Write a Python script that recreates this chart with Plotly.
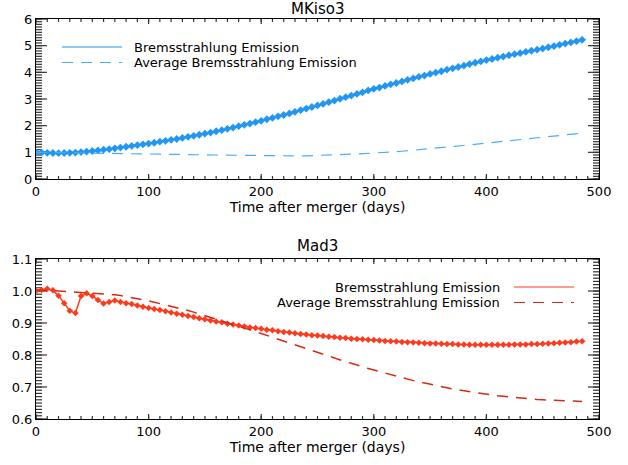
import plotly.graph_objects as go

W, H = 628, 465

days = [0, 5, 10, 15, 20, 25, 30, 35, 40, 45, 50, 55, 60, 65, 70, 75, 80, 85, 90, 95,
        100, 105, 110, 115, 120, 125, 130, 135, 140, 145, 150, 155, 160, 165, 170, 175, 180, 185, 190, 195,
        200, 205, 210, 215, 220, 225, 230, 235, 240, 245, 250, 255, 260, 265, 270, 275, 280, 285, 290, 295,
        300, 305, 310, 315, 320, 325, 330, 335, 340, 345, 350, 355, 360, 365, 370, 375, 380, 385, 390, 395,
        400, 405, 410, 415, 420, 425, 430, 435, 440, 445, 450, 455, 460, 465, 470, 475, 480, 485]

mkiso3_brems = [1.00, 0.99, 0.98, 0.975, 0.97, 0.975, 0.98, 0.99, 1.01, 1.03,
                1.05, 1.07, 1.10, 1.12, 1.15, 1.18, 1.21, 1.24, 1.27, 1.30,
                1.33, 1.36, 1.40, 1.43, 1.47, 1.50, 1.54, 1.58, 1.62, 1.66,
                1.70, 1.74, 1.79, 1.83, 1.88, 1.93, 1.98, 2.03, 2.08, 2.13,
                2.18, 2.24, 2.29, 2.35, 2.40, 2.46, 2.52, 2.58, 2.64, 2.70,
                2.76, 2.82, 2.88, 2.94, 3.01, 3.07, 3.13, 3.19, 3.25, 3.32,
                3.38, 3.43, 3.49, 3.55, 3.60, 3.66, 3.72, 3.77, 3.83, 3.88,
                3.94, 3.99, 4.04, 4.10, 4.15, 4.20, 4.25, 4.31, 4.36, 4.41,
                4.46, 4.50, 4.55, 4.59, 4.64, 4.68, 4.72, 4.77, 4.81, 4.85,
                4.89, 4.94, 4.98, 5.03, 5.08, 5.12, 5.17, 5.22]

mkiso3_avg = [1.000, 0.998, 0.995, 0.992, 0.989, 0.986, 0.983, 0.980, 0.977, 0.974,
              0.971, 0.969, 0.967, 0.965, 0.963, 0.961, 0.958, 0.956, 0.954, 0.951,
              0.948, 0.944, 0.940, 0.936, 0.932, 0.928, 0.924, 0.920, 0.916, 0.912,
              0.908, 0.904, 0.900, 0.896, 0.892, 0.888, 0.884, 0.880, 0.876, 0.872,
              0.869, 0.866, 0.864, 0.863, 0.862, 0.862, 0.864, 0.866, 0.870, 0.875,
              0.880, 0.887, 0.895, 0.903, 0.912, 0.921, 0.930, 0.940, 0.950, 0.958,
              0.967, 0.980, 0.994, 1.009, 1.024, 1.040, 1.057, 1.075, 1.093, 1.111,
              1.130, 1.150, 1.171, 1.192, 1.213, 1.235, 1.257, 1.279, 1.301, 1.323,
              1.345, 1.366, 1.387, 1.408, 1.429, 1.450, 1.472, 1.494, 1.516, 1.538,
              1.560, 1.583, 1.606, 1.629, 1.652, 1.675, 1.698, 1.720]

mad3_brems = [1.000, 1.003, 1.007, 1.002, 0.985, 0.962, 0.938, 0.931, 0.984, 0.993,
              0.984, 0.972, 0.961, 0.966, 0.970, 0.966, 0.962, 0.959, 0.955, 0.951,
              0.947, 0.944, 0.941, 0.937, 0.933, 0.929, 0.926, 0.922, 0.919, 0.915,
              0.912, 0.908, 0.905, 0.902, 0.898, 0.895, 0.892, 0.889, 0.886, 0.884,
              0.882, 0.879, 0.877, 0.874, 0.872, 0.870, 0.868, 0.866, 0.864, 0.862,
              0.861, 0.859, 0.857, 0.856, 0.854, 0.853, 0.851, 0.850, 0.849, 0.848,
              0.847, 0.845, 0.844, 0.843, 0.842, 0.841, 0.840, 0.839, 0.838, 0.837,
              0.836, 0.836, 0.835, 0.834, 0.834, 0.833, 0.833, 0.832, 0.832, 0.832,
              0.832, 0.832, 0.832, 0.832, 0.832, 0.833, 0.833, 0.833, 0.834, 0.834,
              0.835, 0.836, 0.837, 0.838, 0.839, 0.840, 0.842, 0.843]

mad3_avg = [1.003, 1.003, 1.002, 1.001, 1.000, 0.999, 0.998, 0.997, 0.996, 0.995,
            0.994, 0.993, 0.991, 0.989, 0.988, 0.986, 0.983, 0.980, 0.976, 0.972,
            0.969, 0.965, 0.961, 0.957, 0.953, 0.949, 0.944, 0.939, 0.934, 0.929,
            0.924, 0.918, 0.912, 0.906, 0.900, 0.895, 0.889, 0.884, 0.879, 0.873,
            0.867, 0.861, 0.855, 0.849, 0.843, 0.837, 0.831, 0.825, 0.819, 0.813,
            0.807, 0.801, 0.795, 0.789, 0.784, 0.779, 0.774, 0.768, 0.763, 0.758,
            0.753, 0.748, 0.743, 0.738, 0.733, 0.728, 0.724, 0.720, 0.716, 0.712,
            0.708, 0.704, 0.701, 0.697, 0.694, 0.691, 0.688, 0.685, 0.682, 0.680,
            0.677, 0.675, 0.673, 0.671, 0.669, 0.667, 0.665, 0.664, 0.662, 0.661,
            0.660, 0.659, 0.658, 0.657, 0.656, 0.656, 0.655, 0.655]

titles = ["MKiso3", "Mad3"]
xlabel = "Time after merger (days)"
legend_labels = ["Bremsstrahlung Emission", "Average Bremsstrahlung Emission"]

BLUE = "#2196f3"
BLUE_D = "#47aef5"
RED = "#ff3a1c"
RED_D = "#d42a12"
FONT = "DejaVu Sans"

def px(x):
    return x / W

def py(y):
    return 1 - y / H

XDOM = [36 / W, 599 / W]
TOP_DOM = [py(179), py(19)]
BOT_DOM = [py(419), py(259)]
PLOT_W = 563.0
PLOT_H = 160.0
XR = [0, 500]

fig = go.Figure()

# ---- tick marks on all four sides, drawn as line segments in axis units ----
def tick_trace(xa, ya, yr, ymaj, ymin):
    xs, ys = [], []
    (x0, x1), (y0, y1) = XR, yr
    ypp = (y1 - y0) / PLOT_H  # data units per pixel (y)
    xpp = (x1 - x0) / PLOT_W  # data units per pixel (x)
    for step, ln in [(100, 5), (10, 3)]:
        n = int(round((x1 - x0) / step))
        for i in range(n + 1):
            v = x0 + i * step
            xs += [v, v, None, v, v, None]
            ys += [y0, y0 + ln * ypp, None, y1, y1 - ln * ypp, None]
    for step, ln in [(ymaj, 11), (ymin, 6)]:
        n = int(round((y1 - y0) / step))
        for i in range(n + 1):
            v = y0 + i * step
            xs += [x0, x0 + ln * xpp, None, x1, x1 - ln * xpp, None]
            ys += [v, v, None, v, v, None]
    return go.Scatter(x=xs, y=ys, mode="lines", xaxis=xa, yaxis=ya, cliponaxis=False,
                      line=dict(color="#333333", width=1.2), hoverinfo="skip", showlegend=False)

fig.add_trace(tick_trace("x", "y", [0, 6], 1, 0.1))
fig.add_trace(tick_trace("x2", "y2", [0.6, 1.1], 0.1, 0.01))

fig.add_trace(go.Scatter(x=days, y=mkiso3_brems, mode="lines+markers", xaxis="x", yaxis="y",
                         line=dict(color=BLUE, width=1.5),
                         marker=dict(symbol="diamond", size=6, color=BLUE), showlegend=False))
fig.add_trace(go.Scatter(x=days, y=mkiso3_avg, mode="lines", xaxis="x", yaxis="y",
                         line=dict(color=BLUE_D, width=1.2, dash="11px,8px"), showlegend=False))
fig.add_trace(go.Scatter(x=days, y=mad3_brems, mode="lines+markers", xaxis="x2", yaxis="y2",
                         line=dict(color=RED, width=1.5),
                         marker=dict(symbol="diamond", size=5, color=RED), showlegend=False))
fig.add_trace(go.Scatter(x=days, y=mad3_avg, mode="lines", xaxis="x2", yaxis="y2",
                         line=dict(color=RED_D, width=1.5, dash="11px,8px"), showlegend=False))

base = dict(showline=True, linecolor="black", linewidth=1, mirror=True,
            showgrid=False, zeroline=False, automargin=False,
            ticks="", tickmode="linear", fixedrange=True)

major_x = dict(base, range=XR, tick0=0, dtick=100, domain=XDOM,
               tickfont=dict(family=FONT, size=13, color="black"),
               title=dict(text=xlabel, font=dict(family=FONT, size=14, color="black"), standoff=4))
major_y = dict(base, tickfont=dict(family=FONT, size=13, color="black"))

fig.update_layout(
    width=W, height=H, margin=dict(l=0, r=0, t=0, b=0, autoexpand=False),
    paper_bgcolor="white", plot_bgcolor="white",
    xaxis=dict(major_x, anchor="y"),
    yaxis=dict(major_y, range=[0, 6], tick0=0, dtick=1, domain=TOP_DOM, anchor="x"),
    xaxis2=dict(major_x, anchor="y2"),
    yaxis2=dict(major_y, range=[0.6, 1.1], tick0=0.6, dtick=0.1, tickformat=".1f",
                domain=BOT_DOM, anchor="x2"),
)

shapes = [
    dict(type="line", xref="paper", yref="paper", x0=px(62), x1=px(122), y0=py(47), y1=py(47),
         line=dict(color=BLUE, width=1.2)),
    dict(type="line", xref="paper", yref="paper", x0=px(62), x1=px(122), y0=py(62.5), y1=py(62.5),
         line=dict(color=BLUE_D, width=1.2, dash="11px,8px")),
    dict(type="line", xref="paper", yref="paper", x0=px(514), x1=px(574), y0=py(287), y1=py(287),
         line=dict(color=RED, width=1.2)),
    dict(type="line", xref="paper", yref="paper", x0=px(514), x1=px(574), y0=py(302.5), y1=py(302.5),
         line=dict(color=RED_D, width=1.2, dash="11px,8px")),
]
fig.update_layout(shapes=shapes)

ann_font = dict(family=FONT, size=13, color="black")
annotations = [
    dict(text=titles[0], x=px(317), y=py(9), xref="paper", yref="paper", showarrow=False,
         xanchor="center", yanchor="middle", font=dict(family=FONT, size=15, color="black")),
    dict(text=titles[1], x=px(317), y=py(246), xref="paper", yref="paper", showarrow=False,
         xanchor="center", yanchor="middle", font=dict(family=FONT, size=15, color="black")),
    dict(text=legend_labels[0], x=px(132), y=py(47), xref="paper", yref="paper", showarrow=False,
         xanchor="left", yanchor="middle", font=ann_font),
    dict(text=legend_labels[1], x=px(132), y=py(62.5), xref="paper", yref="paper", showarrow=False,
         xanchor="left", yanchor="middle", font=ann_font),
    dict(text=legend_labels[0], x=px(502), y=py(287), xref="paper", yref="paper", showarrow=False,
         xanchor="right", yanchor="middle", font=ann_font),
    dict(text=legend_labels[1], x=px(502), y=py(302.5), xref="paper", yref="paper", showarrow=False,
         xanchor="right", yanchor="middle", font=ann_font),
]
fig.update_layout(annotations=annotations)

fig.write_html("out.html")
